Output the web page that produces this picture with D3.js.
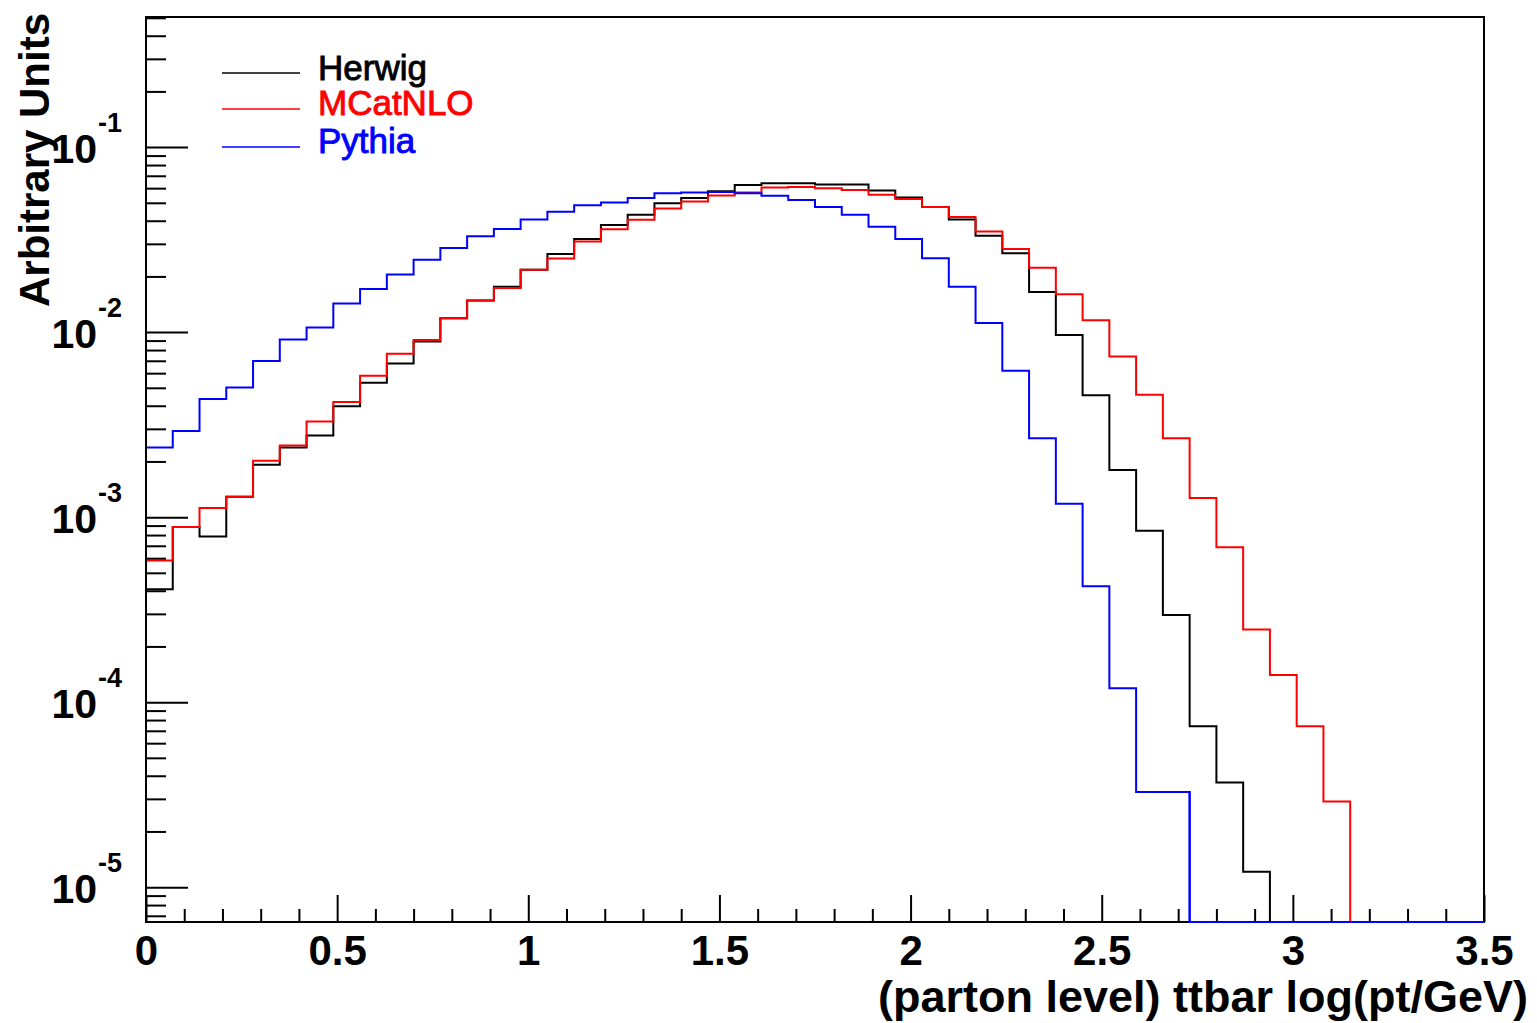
<!DOCTYPE html>
<html>
<head>
<meta charset="UTF-8">
<script src="https://cdn.jsdelivr.net/npm/d3@7/dist/d3.min.js"></script>
<style>
  * { margin: 0; padding: 0; }
  html, body { width: 1537px; height: 1023px; background: #fff; overflow: hidden; }
  svg { display: block; font-family: "Liberation Sans", Arial, sans-serif; }
</style>
</head>
<body>
<svg id="chart" width="1537" height="1023"></svg>
<script>
// binning: 50 bins of 0.07 over [0, 3.5]
var xMin = 0, xMax = 3.5, binWidth = 0.07, nBins = 50;

var seriesNames = ["Herwig", "MCatNLO", "Pythia"];
var seriesColors = ["#000000", "#ff0000", "#0000ff"];

// bin contents (log y), zeros drop to the frame bottom
var herwig = [4.08e-4, 8.83e-4, 7.85e-4, 1.29e-3, 1.92e-3, 2.38e-3, 2.76e-3, 3.98e-3, 5.32e-3, 6.76e-3,
  8.89e-3, 1.19e-2, 1.48e-2, 1.76e-2, 2.17e-2, 2.64e-2, 3.19e-2, 3.79e-2, 4.31e-2, 4.98e-2,
  5.30e-2, 5.78e-2, 6.24e-2, 6.38e-2, 6.38e-2, 6.28e-2, 6.28e-2, 5.83e-2, 5.34e-2, 4.74e-2,
  4.06e-2, 3.32e-2, 2.67e-2, 1.65e-2, 9.66e-3, 4.56e-3, 1.80e-3, 8.43e-4, 2.96e-4, 7.40e-5,
  3.68e-5, 1.21e-5, 0, 0, 0, 0, 0, 0, 0, 0];
var mcatnlo = [5.82e-4, 8.83e-4, 1.12e-3, 1.29e-3, 2.02e-3, 2.44e-3, 3.29e-3, 4.19e-3, 5.81e-3, 7.64e-3,
  9.06e-3, 1.19e-2, 1.48e-2, 1.73e-2, 2.17e-2, 2.50e-2, 3.09e-2, 3.60e-2, 4.05e-2, 4.66e-2,
  5.08e-2, 5.47e-2, 5.69e-2, 6.05e-2, 6.08e-2, 6.00e-2, 5.86e-2, 5.52e-2, 5.24e-2, 4.74e-2,
  4.19e-2, 3.50e-2, 2.81e-2, 2.23e-2, 1.60e-2, 1.16e-2, 7.38e-3, 4.58e-3, 2.67e-3, 1.27e-3,
  6.87e-4, 2.47e-4, 1.40e-4, 7.40e-5, 2.90e-5, 0, 0, 0, 0, 0];
var pythia = [2.38e-3, 2.92e-3, 4.35e-3, 5.02e-3, 6.97e-3, 9.12e-3, 1.06e-2, 1.43e-2, 1.71e-2, 2.05e-2,
  2.46e-2, 2.85e-2, 3.30e-2, 3.61e-2, 4.06e-2, 4.47e-2, 4.85e-2, 5.02e-2, 5.30e-2, 5.64e-2,
  5.69e-2, 5.72e-2, 5.64e-2, 5.46e-2, 5.18e-2, 4.74e-2, 4.31e-2, 3.71e-2, 3.19e-2, 2.51e-2,
  1.76e-2, 1.12e-2, 6.18e-3, 2.67e-3, 1.18e-3, 4.23e-4, 1.19e-4, 3.27e-5, 3.27e-5, 0,
  0, 0, 0, 0, 0, 0, 0, 0, 0, 0];
var seriesValues = [herwig, mcatnlo, pythia];

var xTickLabels = ["0", "0.5", "1", "1.5", "2", "2.5", "3", "3.5"];
var yMajorTicks = [1e-5, 1e-4, 1e-3, 1e-2, 1e-1];
var yExponents = ["-5", "-4", "-3", "-2", "-1"];
var yDomain = [6.48e-6, 0.505];

var xTitle = "(parton level) ttbar log(pt/GeV)";
var yTitle = "Arbitrary Units";

// frame
var L = 146, R = 1484, T = 17, B = 922;

var svg = d3.select("#chart");

var x = d3.scaleLinear().domain([xMin, xMax]).range([L, R]);
var y = d3.scaleLog().domain(yDomain).range([B, T]).clamp(true);

function yPos(v) { return v > 0 ? y(v) : B; }

svg.append("defs").append("clipPath").attr("id", "frameClip")
  .append("rect").attr("x", L - 2).attr("y", T - 2).attr("width", R - L + 4).attr("height", B - T + 4);

// histograms, drawn in ROOT order so Pythia sits on top
var line = d3.line()
  .x(function(d) { return x(d[0]); })
  .y(function(d) { return yPos(d[1]); })
  .curve(d3.curveStepAfter);

var hg = svg.append("g").attr("clip-path", "url(#frameClip)");
seriesValues.forEach(function(vals, s) {
  var pts = vals.map(function(v, i) { return [xMin + i * binWidth, v]; });
  pts.push([xMin + nBins * binWidth, vals[nBins - 1]]);
  hg.append("path")
    .attr("d", line(pts))
    .attr("fill", "none")
    .attr("stroke", seriesColors[s])
    .attr("stroke-width", 2);
});

// x axis: ticks point up into the frame
var xMajor = x.ticks(7);
var xMinor = d3.range(0, 36).map(function(i) { return i / 10; })
  .filter(function(v) { return Math.round(v * 10) % 5 !== 0; });

svg.append("g").attr("transform", "translate(0," + B + ")")
  .call(d3.axisBottom(x).tickValues(xMinor).tickSizeInner(-13).tickSizeOuter(0).tickFormat(""))
  .call(function(g) { g.select(".domain").remove(); });

svg.append("g").attr("transform", "translate(0," + B + ")")
  .call(d3.axisBottom(x).tickValues(xMajor).tickSizeInner(-27).tickSizeOuter(0).tickPadding(13)
    .tickFormat(function(d, i) { return xTickLabels[i]; }))
  .call(function(g) {
    g.select(".domain").remove();
    g.selectAll("text").attr("font-size", 42).attr("font-weight", "bold")
      .attr("font-family", "Liberation Sans, Arial, sans-serif").attr("fill", "#000");
  });

// y axis: log ticks pointing right
var yAll = y.ticks().filter(function(v) { return v >= yDomain[0] && v <= yDomain[1]; });
var yMinor = yAll.filter(function(v) {
  var m = v / Math.pow(10, Math.floor(Math.log10(v) + 1e-9));
  return Math.abs(m - 1) > 1e-6;
});

svg.append("g").attr("transform", "translate(" + L + ",0)")
  .call(d3.axisLeft(y).tickValues(yMinor).tickSizeInner(-20).tickSizeOuter(0).tickFormat(""))
  .call(function(g) { g.select(".domain").remove(); });

svg.append("g").attr("transform", "translate(" + L + ",0)")
  .call(d3.axisLeft(y).tickValues(yMajorTicks).tickSizeInner(-42).tickSizeOuter(0).tickFormat(""))
  .call(function(g) { g.select(".domain").remove(); });

svg.selectAll(".tick line").attr("stroke", "#000").attr("stroke-width", 2);

// y labels as 10^n
var yl = svg.append("g").attr("font-weight", "bold").attr("fill", "#000");
yMajorTicks.forEach(function(v, i) {
  var py = y(v);
  yl.append("text").attr("x", 97).attr("y", py + 16).attr("text-anchor", "end")
    .attr("font-size", 41).text("10");
  yl.append("text").attr("x", 98).attr("y", py - 15).attr("text-anchor", "start")
    .attr("font-size", 27).text(yExponents[i]);
});

// frame
svg.append("rect").attr("x", L).attr("y", T).attr("width", R - L).attr("height", B - T)
  .attr("fill", "none").attr("stroke", "#000").attr("stroke-width", 2);

// redraw Pythia's zero tail over the frame bottom
svg.append("g").attr("clip-path", "url(#frameClip)").append("path")
  .attr("d", line(pythia.map(function(v, i) { return [xMin + i * binWidth, v]; })
    .concat([[xMax, 0]]).filter(function(d, i, a) { return d[1] === 0 || (a[i + 1] && a[i + 1][1] === 0); })))
  .attr("fill", "none").attr("stroke", seriesColors[2]).attr("stroke-width", 2);

// axis titles
svg.append("text").attr("x", 1528).attr("y", 1012).attr("text-anchor", "end")
  .attr("font-size", 45).attr("font-weight", "bold").attr("fill", "#000").text(xTitle);

svg.append("text").attr("transform", "translate(49,160) rotate(-90)").attr("text-anchor", "middle")
  .attr("font-size", 42).attr("font-weight", "bold").attr("fill", "#000").text(yTitle);

// legend (text is a bit heavier than regular in the original)
var legY = [73, 109, 147];
var legBase = [80, 115, 153];
var leg = svg.append("g");
seriesNames.forEach(function(name, i) {
  leg.append("line").attr("x1", 222).attr("x2", 300).attr("y1", legY[i]).attr("y2", legY[i])
    .attr("stroke", seriesColors[i]).attr("stroke-width", 1.6);
  leg.append("text").attr("x", 318).attr("y", legBase[i]).attr("font-size", 35)
    .attr("fill", seriesColors[i]).attr("stroke", seriesColors[i]).attr("stroke-width", 0.9)
    .text(name);
});
</script>
</body>
</html>
